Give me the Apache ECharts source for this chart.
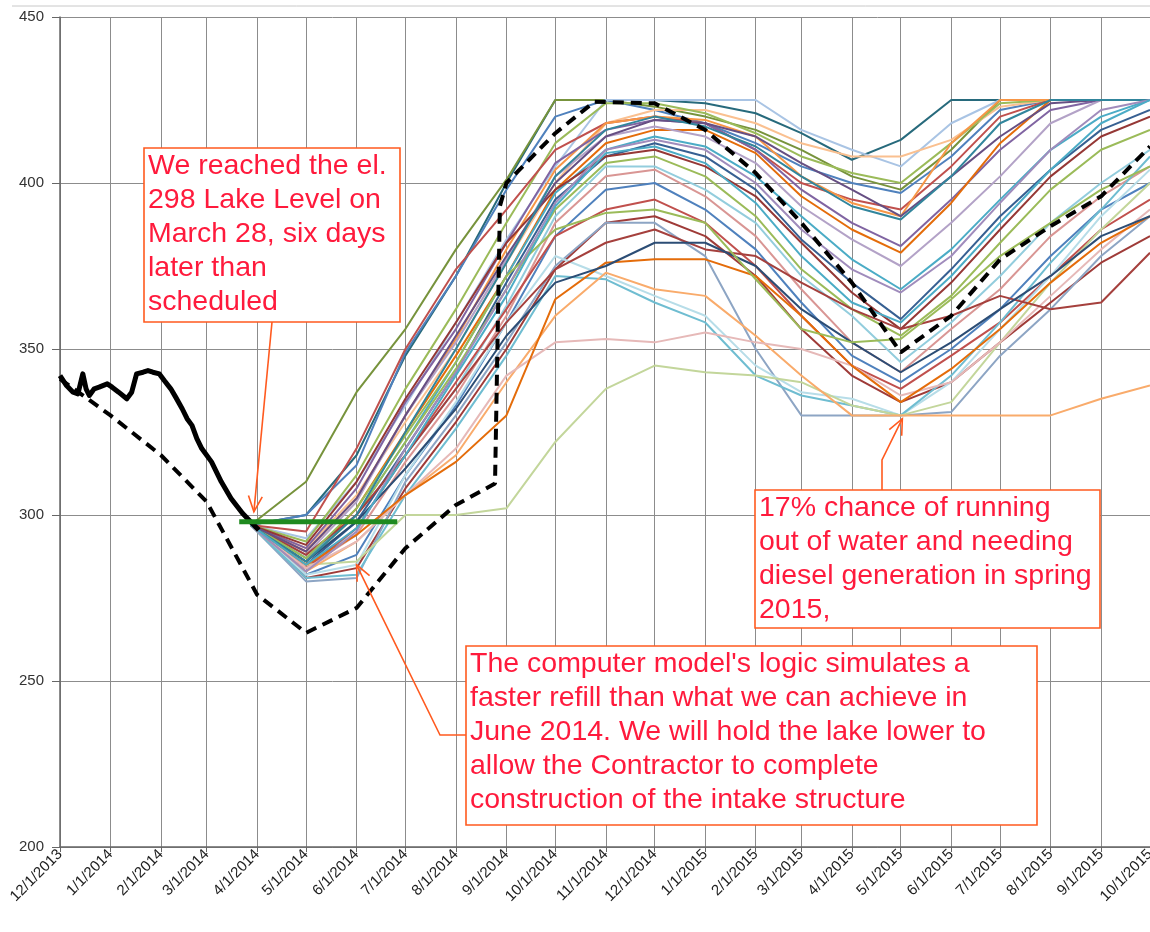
<!DOCTYPE html>
<html>
<head>
    <meta charset="utf-8" />
    <title>Lake level forecast</title>
    <script src="https://cdn.jsdelivr.net/npm/echarts@6/dist/echarts.min.js"></script>
    <style>
        html, body { margin: 0; padding: 0; background: #fff; }
        #main { width: 1150px; height: 932px; }
    </style>
</head>
<body>
    <div id="main"></div>

    <script type="text/javascript">
        // model runs, one value per date in runDates
        var runDates = ['2014-03-28', '2014-05-01', '2014-06-01', '2014-07-01', '2014-08-01', '2014-09-01',
            '2014-10-01', '2014-11-01', '2014-12-01', '2015-01-01', '2015-02-01', '2015-03-01', '2015-04-01',
            '2015-05-01', '2015-06-01', '2015-07-01', '2015-08-01', '2015-09-01', '2015-10-01'];

        var run01 = [297, 300, 318, 348, 372, 400, 425, 425, 425, 424, 421, 415, 407, 413, 425, 425, 425, 425, 425];
        var run02 = [297, 310, 337, 356, 380, 401, 425, 425, 423, 420, 416, 410, 402, 398, 410, 425, 425, 425, 425];
        var run03 = [297, 300, 315, 349, 372, 398, 420, 425, 422, 418, 412, 405, 400, 397, 408, 422, 425, 425, 425];
        var run04 = [297, 293, 310, 333, 358, 383, 405, 425, 425, 425, 425, 416, 410, 405, 418, 425, 425, 425, 425];
        var run05 = [297, 290, 306, 328, 350, 376, 400, 418, 422, 422, 418, 412, 408, 408, 413, 423, 425, 425, 425];
        var run06 = [297, 292, 312, 338, 362, 388, 412, 424, 424, 421, 415, 408, 403, 400, 412, 424, 425, 425, 425];
        var run07 = [297, 295, 320, 350, 374, 392, 410, 418, 420, 418, 410, 400, 395, 392, 405, 420, 425, 425, 425];
        var run08 = [297, 289, 305, 330, 353, 380, 404, 418, 420, 419, 414, 402, 394, 390, 412, 425, 425, 425, 425];
        var run09 = [297, 290, 308, 334, 356, 382, 406, 416, 419, 418, 410, 398, 388, 381, 395, 410, 422, 425, 425];
        var run10 = [297, 286, 302, 325, 348, 372, 398, 412, 416, 416, 409, 396, 386, 379, 394, 412, 425, 425, 425];
        var run11 = [297, 288, 304, 330, 352, 377, 402, 414, 417, 414, 406, 393, 383, 375, 388, 402, 418, 425, 425];
        var run12 = [297, 287, 300, 322, 346, 372, 397, 410, 414, 411, 402, 390, 377, 368, 380, 395, 410, 420, 425];
        var run13 = [297, 285, 298, 320, 343, 370, 395, 408, 412, 408, 398, 383, 370, 359, 374, 390, 404, 416, 422];
        var run14 = [297, 291, 310, 335, 358, 382, 398, 408, 410, 405, 396, 382, 367, 356, 370, 386, 402, 414, 420];
        var run15 = [297, 286, 300, 322, 344, 368, 392, 406, 408, 402, 390, 374, 362, 354, 366, 382, 398, 410, 416];
        var run16 = [297, 283, 296, 318, 338, 363, 390, 405, 405, 398, 388, 372, 360, 346, 358, 372, 388, 400, 410];
        var run17 = [297, 284, 294, 316, 336, 360, 388, 402, 404, 396, 384, 368, 352, 343, 356, 368, 384, 396, 405];
        var run18 = [297, 282, 288, 312, 333, 358, 384, 398, 400, 392, 380, 364, 348, 340, 350, 362, 378, 392, 400];
        var run19 = [297, 284, 296, 318, 340, 362, 384, 392, 395, 388, 375, 360, 345, 338, 348, 358, 372, 386, 395];
        var run20 = [297, 281, 284, 308, 328, 350, 374, 388, 390, 384, 372, 356, 342, 334, 340, 352, 364, 376, 384];
        var run21 = [297, 280, 281, 310, 330, 352, 375, 388, 388, 378, 350, 330, 330, 330, 331, 348, 362, 378, 390];
        var run22 = [297, 282, 285, 312, 334, 358, 378, 372, 366, 360, 345, 337, 335, 330, 340, 356, 372, 390, 404];
        var run23 = [297, 281, 282, 306, 326, 348, 372, 371, 364, 358, 342, 336, 333, 330, 342, 358, 376, 392, 408];
        var run24 = [297, 285, 286, 300, 300, 302, 322, 338, 345, 343, 342, 340, 333, 330, 334, 352, 370, 386, 400];
        var run25 = [297, 283, 292, 306, 318, 340, 360, 373, 368, 366, 354, 342, 330, 330, 330, 330, 330, 335, 339];
        var run26 = [297, 284, 292, 306, 320, 342, 352, 353, 352, 355, 352, 350, 345, 336, 340, 352, 366, 380, 392];
        var run27 = [297, 285, 294, 306, 316, 330, 365, 376, 377, 377, 372, 360, 345, 334, 344, 356, 370, 382, 390];
        var run28 = [297, 288, 300, 318, 338, 358, 374, 382, 386, 380, 378, 370, 362, 356, 360, 366, 362, 364, 379];
        var run29 = [297, 286, 298, 314, 332, 354, 370, 375, 382, 382, 375, 362, 352, 343, 352, 362, 372, 384, 390];
        var run30 = [297, 287, 302, 324, 346, 372, 386, 391, 392, 388, 371, 356, 352, 353, 365, 378, 388, 398, 405];
        var run31 = [297, 289, 305, 330, 354, 378, 400, 414, 419, 418, 414, 406, 398, 390, 402, 414, 424, 425, 425];
        var run32 = [297, 286, 300, 325, 350, 376, 402, 416, 420, 417, 411, 402, 393, 389, 402, 418, 425, 425, 425];
        var run33 = [297, 283, 295, 320, 343, 368, 394, 410, 413, 410, 400, 386, 374, 367, 378, 394, 410, 422, 425];
        var run34 = [297, 285, 296, 318, 342, 366, 393, 409, 411, 406, 394, 378, 364, 358, 372, 388, 404, 418, 425];

        var runs = [run01, run02, run03, run04, run05, run06, run07, run08, run09, run10, run11, run12,
            run13, run14, run15, run16, run17, run18, run19, run20, run21, run22, run23, run24, run25,
            run26, run27, run28, run29, run30, run31, run32, run33, run34];

        var runColors = ['#276A7C', '#77933C', '#4F81BD', '#A9C4E4', '#FAC090', '#9BBB59', '#C0504D', '#F79646',
            '#8064A2', '#E46C0A', '#B3A2C7', '#4BACC6', '#376092', '#953735', '#9BBB59', '#93CDDD', '#D99694',
            '#4F81BD', '#C0504D', '#9F3B38', '#8DA5C4', '#B7DDE8', '#6FBDD1', '#C3D69B', '#F9AB6B', '#E6B9B8',
            '#E46C0A', '#A5403D', '#2C4D75', '#9BBB59', '#664F83', '#31859C', '#A08CBC', '#4BACC6'];

        // observed lake level
        var actualDates = ['2013-12-01', '2013-12-05', '2013-12-09', '2013-12-12', '2013-12-15', '2013-12-17',
            '2013-12-19', '2013-12-22', '2013-12-25', '2013-12-30', '2014-01-02', '2014-01-06', '2014-01-11',
            '2014-01-14', '2014-01-17', '2014-01-21', '2014-01-24', '2014-01-27', '2014-01-31', '2014-02-03',
            '2014-02-07', '2014-02-10', '2014-02-14', '2014-02-17', '2014-02-20', '2014-02-23', '2014-02-26',
            '2014-03-04', '2014-03-10', '2014-03-16', '2014-03-23', '2014-03-28', '2014-04-02'];
        var actualLevel = [342, 339, 337, 336.5, 342.5, 338, 336, 338, 338.5, 339.5, 338.5, 337, 335,
            337, 342.5, 343, 343.5, 343, 342.5, 340.5, 338, 335.5, 332, 329, 327, 323, 320,
            316, 310, 305, 300.5, 298, 295.5];

        // scheduled lake level
        var scheduleDates = ['2013-12-01', '2014-01-01', '2014-02-01', '2014-03-01', '2014-04-01', '2014-05-01',
            '2014-06-01', '2014-07-01', '2014-08-01', '2014-08-25', '2014-08-28', '2014-09-01', '2014-10-01',
            '2014-10-25', '2014-12-01', '2015-01-01', '2015-02-01', '2015-03-01', '2015-04-01', '2015-05-01',
            '2015-06-01', '2015-07-01', '2015-08-01', '2015-09-01', '2015-10-01'];
        var scheduleLevel = [341, 330, 318, 304, 276, 264.5, 272, 290, 303, 309.5, 393, 400, 415,
            424.5, 424, 416, 403, 388, 370, 349, 360, 377, 387, 396, 411];

        // el. 298 hold
        var holdDates = ['2014-03-21', '2014-06-26'];
        var holdLevel = [298, 298];

        function ts(s) {
            var p = s.split('-');
            return new Date(+p[0], +p[1] - 1, +p[2]).getTime();
        }
        function pairs(dates, vals) {
            var out = [];
            for (var i = 0; i < dates.length; i++) {
                out.push([ts(dates[i]), vals[i]]);
            }
            return out;
        }

        var series = [];
        for (var i = 0; i < runs.length; i++) {
            series.push({
                type: 'line',
                data: pairs(runDates, runs[i]),
                symbol: 'none',
                silent: true,
                z: 2,
                lineStyle: { width: 2, color: runColors[i] }
            });
        }
        series.push({
            type: 'line',
            data: pairs(scheduleDates, scheduleLevel),
            symbol: 'none',
            z: 4,
            lineStyle: { width: 4, color: '#000', type: [11, 7] }
        });
        series.push({
            type: 'line',
            data: pairs(actualDates, actualLevel),
            symbol: 'none',
            z: 4,
            lineStyle: { width: 5, color: '#000', join: 'round' }
        });
        series.push({
            type: 'line',
            data: pairs(holdDates, holdLevel),
            symbol: 'none',
            z: 5,
            lineStyle: { width: 5, color: '#1f8a1f' }
        });

        var myChart = echarts.init(document.getElementById('main'));
        myChart.setOption({
            animation: false,
            backgroundColor: '#fff',
            grid: { left: 60, right: 0, top: 17, bottom: 85, containLabel: false, outerBoundsMode: 'none' },
            xAxis: {
                type: 'time',
                min: ts('2013-12-01'),
                max: ts('2015-10-01'),
                splitNumber: 22,
                minInterval: 28 * 86400000,
                maxInterval: 31 * 86400000,
                axisLine: { lineStyle: { color: '#666', width: 1.5 } },
                axisTick: { show: true, length: 5, lineStyle: { color: '#666' } },
                splitLine: { show: true, lineStyle: { color: '#8c8c8c', width: 1 } },
                axisLabel: {
                    rotate: 45,
                    margin: 5,
                    color: '#222',
                    fontSize: 15,
                    fontFamily: 'Liberation Sans',
                    hideOverlap: false,
                    formatter: function (v) {
                        var d = new Date(v);
                        return (d.getMonth() + 1) + '/' + d.getDate() + '/' + d.getFullYear();
                    }
                }
            },
            yAxis: {
                type: 'value',
                min: 200,
                max: 450,
                interval: 50,
                axisLine: { show: true, lineStyle: { color: '#666', width: 1.5 } },
                axisTick: { show: true, length: 8, lineStyle: { color: '#666' } },
                splitLine: { show: true, lineStyle: { color: '#8c8c8c', width: 1 } },
                axisLabel: {
                    margin: 16,
                    color: '#333',
                    fontSize: 15,
                    fontFamily: 'Liberation Sans'
                }
            },
            series: series
        });

        // annotations: boxes and leader arrows
        var red = '#ff1a3c';
        var orange = '#ff5a1f';
        function px(d, v) {
            return myChart.convertToPixel({ gridIndex: 0 }, [ts(d), v]);
        }
        function arrow(pts) {
            var n = pts.length;
            var tip = pts[n - 1], prev = pts[n - 2];
            var dx = tip[0] - prev[0], dy = tip[1] - prev[1];
            var len = Math.sqrt(dx * dx + dy * dy);
            dx /= len; dy /= len;
            var a = 0.42, h = 17;
            var l1 = [tip[0] - h * (dx * Math.cos(a) - dy * Math.sin(a)), tip[1] - h * (dy * Math.cos(a) + dx * Math.sin(a))];
            var l2 = [tip[0] - h * (dx * Math.cos(a) + dy * Math.sin(a)), tip[1] - h * (dy * Math.cos(a) - dx * Math.sin(a))];
            return [
                { type: 'polyline', z: 20, shape: { points: pts }, style: { stroke: orange, lineWidth: 1.6, fill: null } },
                { type: 'polyline', z: 20, shape: { points: [l1, tip, l2] }, style: { stroke: orange, lineWidth: 1.6, fill: null } }
            ];
        }
        function box(x, y, w, h, lines) {
            return [
                { type: 'rect', z: 21, shape: { x: x, y: y, width: w, height: h }, style: { fill: '#fff', stroke: orange, lineWidth: 1.6 } },
                {
                    type: 'text', z: 22, x: x + 4, y: y + 1,
                    style: {
                        text: lines.join('\n'), fill: red, fontSize: 28.5, fontFamily: 'Liberation Sans',
                        lineHeight: 34, verticalAlign: 'top', align: 'left'
                    }
                }
            ];
        }

        var g = [];
        g.push({ type: 'line', shape: { x1: 12, y1: 6, x2: 1150, y2: 6 }, style: { stroke: '#c8c8c8', lineWidth: 1 } });
        g = g.concat(arrow([[272, 322], px('2014-03-30', 301)]));
        g = g.concat(arrow([[882, 490], [882, 460], px('2015-05-02', 329)]));
        g = g.concat(arrow([[466, 735], [440, 735], px('2014-06-01', 285)]));
        g = g.concat(box(144, 148, 256, 174, ['We reached the el.', '298 Lake Level on', 'March 28, six days', 'later than', 'scheduled']));
        g = g.concat(box(755, 490, 345, 138, ['17% chance of running', 'out of water and needing', 'diesel generation in spring', '2015,']));
        g = g.concat(box(466, 646, 571, 179, ["The computer model's logic simulates a", 'faster refill than what we can achieve in',
            'June 2014. We will hold the lake lower to', 'allow the Contractor to complete', 'construction of the intake structure']));
        myChart.setOption({ graphic: g });
    </script>
</body>
</html>
